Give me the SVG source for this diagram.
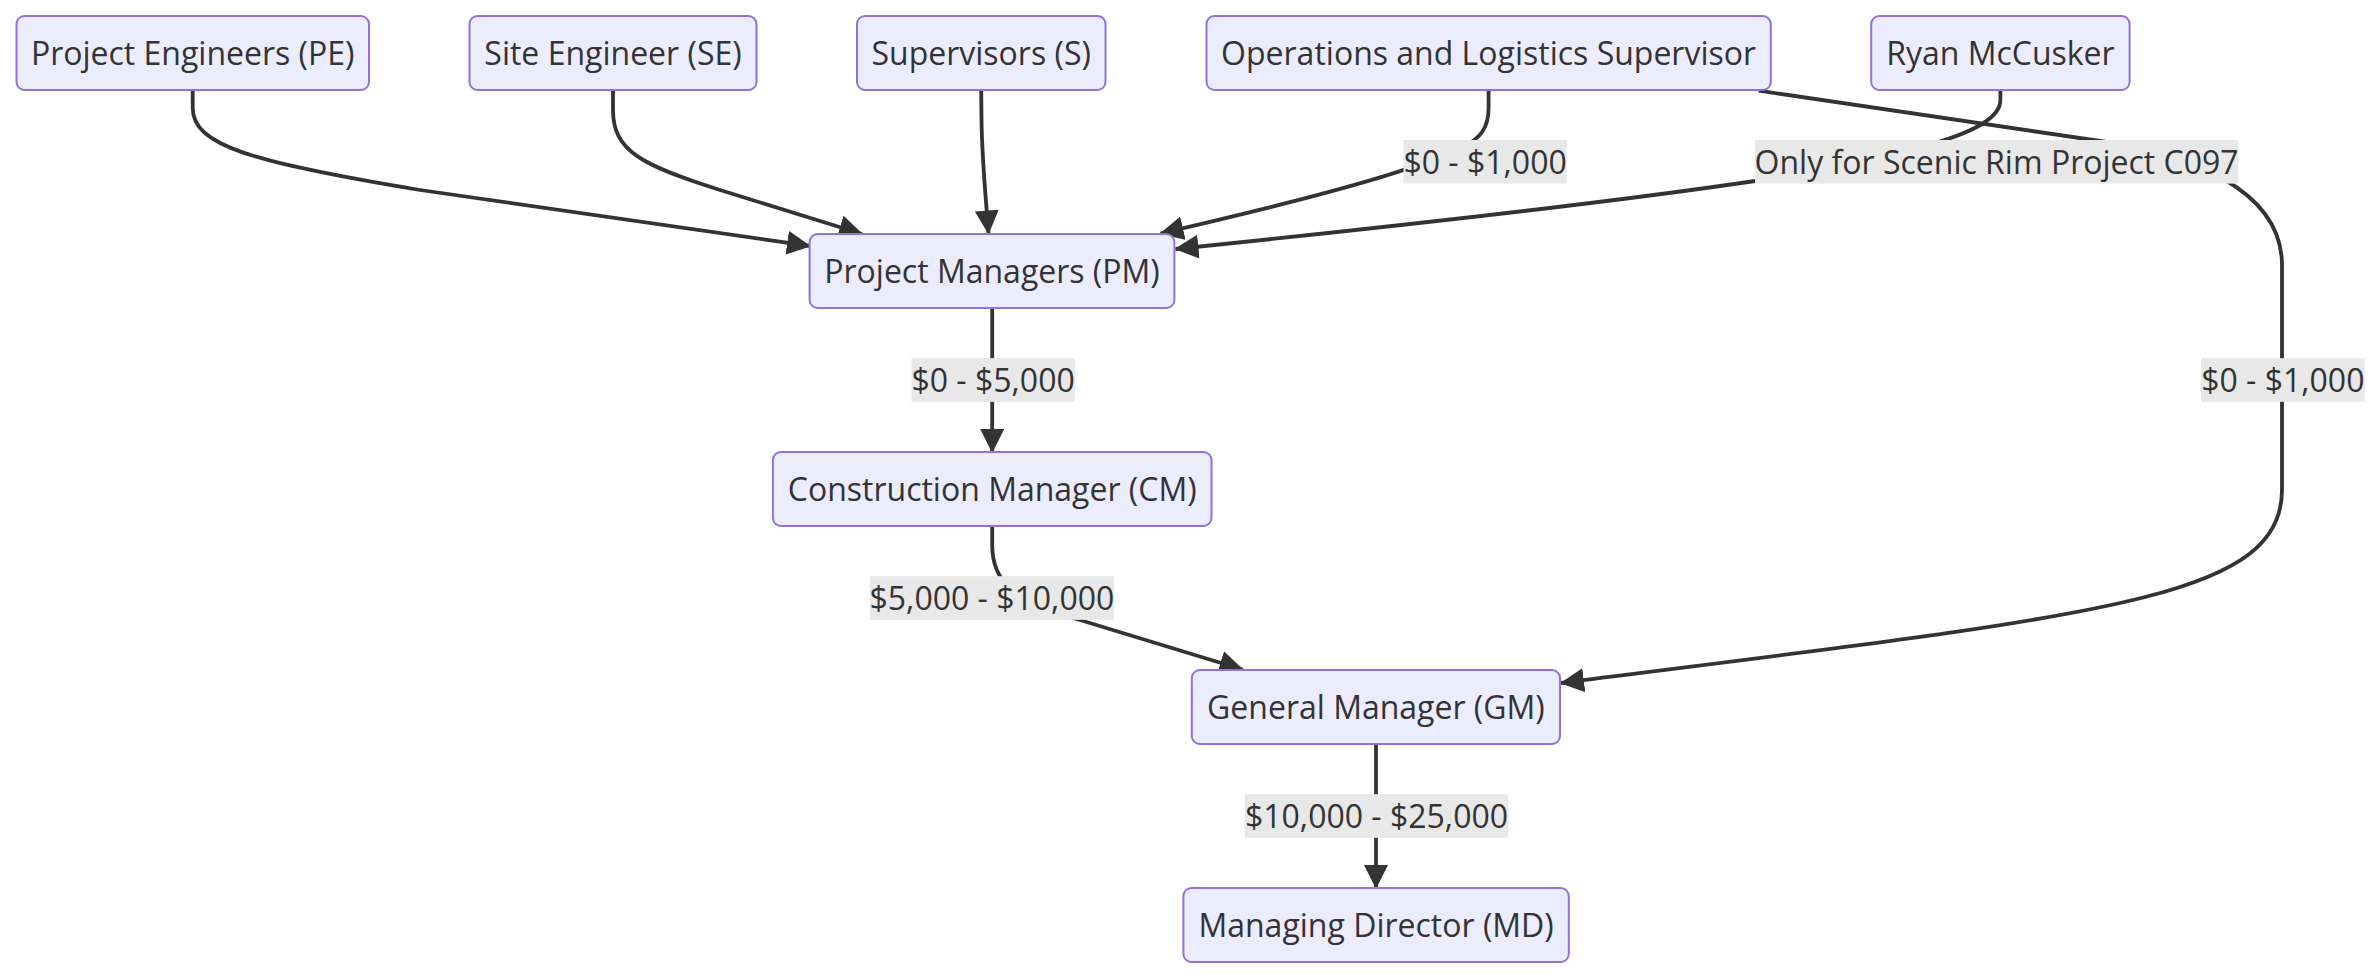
<svg xmlns="http://www.w3.org/2000/svg" width="2380" height="978" viewBox="0 0 2380 978">
<style>
.node rect{fill:#ECECFF;stroke:#9370DB;stroke-width:2}
.node text,.elabel text{font-family:"Open Sans","Noto Sans",sans-serif;font-size:32px;fill:#333333;text-anchor:middle}
.elabel rect{fill:#E8E8E8}
.edge{fill:none;stroke:#333333;stroke-width:3.8}
</style>
<defs>
<marker id="arrow" markerUnits="userSpaceOnUse" viewBox="0 0 24 24" refX="23" refY="12" markerWidth="24" markerHeight="24" orient="auto">
<path d="M0,0 L24,12 L0,24 z" fill="#333333"/>
</marker>
</defs>
<rect width="2380" height="978" fill="#ffffff"/>
<g id="connectors">
<path class="edge" marker-end="url(#arrow)" d="M192.7,90 V108 C192.7,145 250,162 420,190 L810,246"/>
<path class="edge" marker-end="url(#arrow)" d="M613,90 V110 C613,150 640,165 720,190 L862,234"/>
<path class="edge" marker-end="url(#arrow)" d="M981.2,90 L981.5,120 C982,160 986,200 988.5,233.5"/>
<path class="edge" marker-end="url(#arrow)" d="M1488.6,90 V108 C1488.6,128 1480,138 1465,146 C1420,168 1340,192 1160.5,233.5"/>
<path class="edge" marker-end="url(#arrow)" d="M1758.7,90.7 L2100,141 C2190,154 2282,190 2282,265 V490 C2282,600 2100,615 1561,683"/>
<path class="edge" marker-end="url(#arrow)" d="M2000.4,90 V100 C2000.4,135 1900,155 1755,181 C1620,201 1400,226 1175.5,249"/>
<path class="edge" marker-end="url(#arrow)" d="M992.2,308 V452"/>
<path class="edge" marker-end="url(#arrow)" d="M992.2,526 V545 C992.2,580 1010,600 1080,620 L1242.5,669.5"/>
<path class="edge" marker-end="url(#arrow)" d="M1376,744 V888"/>
</g>
<g id="edge-labels">
<g class="elabel"><rect x="1403.5" y="140" width="163.2" height="43.6"/><text x="1485.1" y="174.2">$0 - $1,000</text></g>
<g class="elabel"><rect x="1755" y="140" width="483.3" height="43.6"/><text x="1996.6" y="174.2">Only for Scenic Rim Project C097</text></g>
<g class="elabel"><rect x="2201" y="358.2" width="163.7" height="43.6"/><text x="2282.8" y="392.4">$0 - $1,000</text></g>
<g class="elabel"><rect x="911.3" y="358.2" width="163.6" height="43.6"/><text x="993.1" y="392.4">$0 - $5,000</text></g>
<g class="elabel"><rect x="869.9" y="576.2" width="244" height="43.6"/><text x="991.9" y="610.4">$5,000 - $10,000</text></g>
<g class="elabel"><rect x="1244.7" y="794.2" width="263.6" height="43.6"/><text x="1376.5" y="828.4">$10,000 - $25,000</text></g>
</g>
<g id="PE" class="node"><rect x="16.5" y="16" width="352.5" height="74" rx="8"/><text x="192.7" y="65.4">Project Engineers (PE)</text></g>
<g id="SE" class="node"><rect x="469.5" y="16" width="287" height="74" rx="8"/><text x="613" y="65.4">Site Engineer (SE)</text></g>
<g id="S" class="node"><rect x="857" y="16" width="248.5" height="74" rx="8"/><text x="981.2" y="65.4">Supervisors (S)</text></g>
<g id="OLS" class="node"><rect x="1206.5" y="16" width="564.3" height="74" rx="8"/><text x="1488.6" y="65.4">Operations and Logistics Supervisor</text></g>
<g id="RM" class="node"><rect x="1871.2" y="16" width="258.4" height="74" rx="8"/><text x="2000.4" y="65.4">Ryan McCusker</text></g>
<g id="PM" class="node"><rect x="809.6" y="234" width="364.8" height="74" rx="8"/><text x="992" y="283.4">Project Managers (PM)</text></g>
<g id="CM" class="node"><rect x="772.9" y="452" width="438.6" height="74" rx="8"/><text x="992.2" y="501.4">Construction Manager (CM)</text></g>
<g id="GM" class="node"><rect x="1191.8" y="670" width="368.2" height="74" rx="8"/><text x="1375.9" y="719.4">General Manager (GM)</text></g>
<g id="MD" class="node"><rect x="1183.4" y="888" width="385.4" height="74" rx="8"/><text x="1376.1" y="937.4">Managing Director (MD)</text></g>
</svg>
